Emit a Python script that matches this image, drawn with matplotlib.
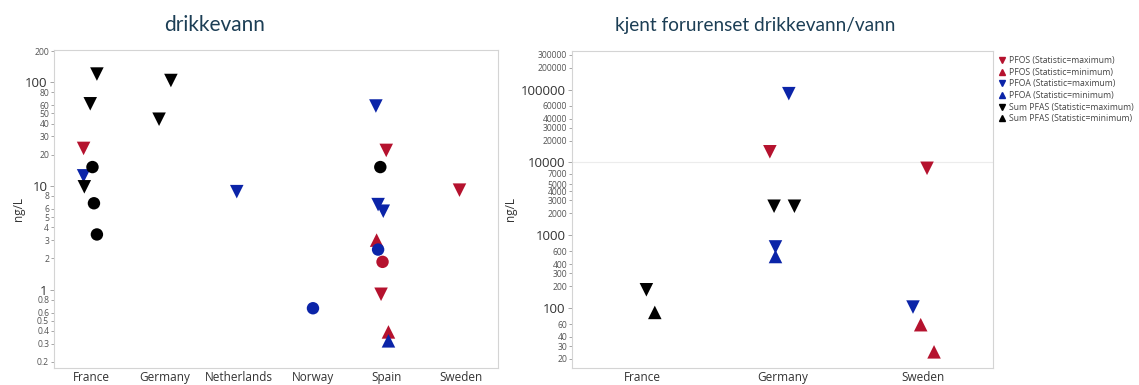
import matplotlib
matplotlib.use("Agg")
import matplotlib.pyplot as plt
from matplotlib.lines import Line2D
from matplotlib.ticker import FixedLocator

plt.rcParams["font.family"] = ["Open Sans", "DejaVu Sans"]

RED = "#b5122e"
BLUE = "#0b24a8"
BLACK = "#000000"
TITLE_COLOR = "#1c3e55"

# ---- drikkevann (drinking water) ----
left_countries = ["France", "Germany", "Netherlands", "Norway", "Spain", "Sweden"]

l_pfos_max_cat = ["France", "Spain", "Spain", "Sweden"]
l_pfos_max_val = [23, 22, 0.9, 9.1]
l_pfos_max_off = [-0.10, -0.01, -0.08, -0.02]

l_pfos_min_cat = ["Spain", "Spain"]
l_pfos_min_val = [3.0, 0.39]
l_pfos_min_off = [-0.14, 0.02]

l_pfoa_max_cat = ["France", "Netherlands", "Spain", "Spain", "Spain"]
l_pfoa_max_val = [12.5, 8.8, 59, 6.6, 5.7]
l_pfoa_max_off = [-0.10, -0.03, -0.15, -0.12, -0.05]

l_pfoa_min_cat = ["Spain"]
l_pfoa_min_val = [0.32]
l_pfoa_min_off = [0.02]

l_sum_max_cat = ["France", "France", "France", "Germany", "Germany"]
l_sum_max_val = [120, 62, 9.8, 44, 104]
l_sum_max_off = [0.08, -0.01, -0.09, -0.08, 0.08]

# single measured values (circles)
l_sum_val_cat = ["France", "France", "France", "Spain"]
l_sum_val_val = [15.2, 6.8, 3.4, 15.2]
l_sum_val_off = [0.02, 0.04, 0.08, -0.09]

l_pfos_val_cat = ["Spain"]
l_pfos_val_val = [1.85]
l_pfos_val_off = [-0.06]

l_pfoa_val_cat = ["Norway", "Spain"]
l_pfoa_val_val = [0.66, 2.43]
l_pfoa_val_off = [0.0, -0.12]

# ---- kjent forurenset drikkevann/vann (known contaminated water) ----
right_countries = ["France", "Germany", "Sweden"]

r_pfos_max_cat = ["Germany", "Sweden"]
r_pfos_max_val = [14000, 8300]
r_pfos_max_off = [-0.09, 0.03]

r_pfos_min_cat = ["Sweden", "Sweden"]
r_pfos_min_val = [59, 25]
r_pfos_min_off = [-0.015, 0.08]

r_pfoa_max_cat = ["Germany", "Germany", "Sweden"]
r_pfoa_max_val = [88000, 690, 103]
r_pfoa_max_off = [0.045, -0.05, -0.07]

r_pfoa_min_cat = ["Germany"]
r_pfoa_min_val = [510]
r_pfoa_min_off = [-0.05]

r_sum_max_cat = ["France", "Germany", "Germany"]
r_sum_max_val = [178, 2500, 2500]
r_sum_max_off = [0.03, -0.06, 0.085]

r_sum_min_cat = ["France"]
r_sum_min_val = [87]
r_sum_min_off = [0.09]

left_major = [1, 10, 100]
left_minor = [0.2, 0.3, 0.4, 0.5, 0.6, 0.8, 2, 3, 4, 5, 6, 8, 20, 30, 40, 50, 60, 80, 200]
right_major = [100, 1000, 10000, 100000]
right_minor = [20, 30, 40, 60, 200, 300, 400, 600, 2000, 3000, 4000, 5000, 7000,
               20000, 30000, 40000, 60000, 200000, 300000]

legend_labels = ["PFOS (Statistic=maximum)", "PFOS (Statistic=minimum)",
                 "PFOA (Statistic=maximum)", "PFOA (Statistic=minimum)",
                 "Sum PFAS (Statistic=maximum)", "Sum PFAS (Statistic=minimum)"]

fig = plt.figure(figsize=(11.39, 3.85), dpi=100)
ax1 = fig.add_axes([0.0474, 0.0442, 0.3898, 0.826])
ax2 = fig.add_axes([0.5022, 0.0442, 0.3696, 0.8235])


def plot_series(ax, order, cat, val, off, marker, color, size):
    xs = [order.index(c) + o for c, o in zip(cat, off)]
    ax.scatter(xs, val, marker=marker, s=size, color=color, edgecolors="none",
               zorder=3)


def style_axis(ax, order, ylim, major, minor):
    ax.set_yscale("log")
    ax.set_ylim(*ylim)
    ax.set_xlim(-0.5, len(order) - 0.5)
    ax.set_xticks(range(len(order)))
    ax.set_xticklabels(order, fontsize=8.5, color="#333333")
    ax.tick_params(axis="x", length=0, pad=2)
    ax.yaxis.set_major_locator(FixedLocator(major))
    ax.yaxis.set_minor_locator(FixedLocator(minor))
    ax.set_yticklabels([f"{v:g}" for v in major])
    ax.set_yticklabels([f"{v:g}" for v in minor], minor=True)
    ax.tick_params(axis="y", which="major", labelsize=9.5, length=3,
                   width=0.6, color="#999999", labelcolor="#333333", pad=1.5)
    ax.tick_params(axis="y", which="minor", labelsize=6.2, length=2,
                   width=0.6, color="#999999", labelcolor="#555555", pad=1.5)
    for s in ax.spines.values():
        s.set_color("#d4d4d4")
        s.set_linewidth(0.8)


TRI = 95
CIR = 80

order = left_countries
plot_series(ax1, order, l_pfos_max_cat, l_pfos_max_val, l_pfos_max_off, "v", RED, TRI)
plot_series(ax1, order, l_pfos_min_cat, l_pfos_min_val, l_pfos_min_off, "^", RED, TRI)
plot_series(ax1, order, l_pfoa_max_cat, l_pfoa_max_val, l_pfoa_max_off, "v", BLUE, TRI)
plot_series(ax1, order, l_pfoa_min_cat, l_pfoa_min_val, l_pfoa_min_off, "^", BLUE, TRI)
plot_series(ax1, order, l_sum_max_cat, l_sum_max_val, l_sum_max_off, "v", BLACK, TRI)
plot_series(ax1, order, l_sum_val_cat, l_sum_val_val, l_sum_val_off, "o", BLACK, CIR)
plot_series(ax1, order, l_pfos_val_cat, l_pfos_val_val, l_pfos_val_off, "o", RED, CIR)
plot_series(ax1, order, l_pfoa_val_cat, l_pfoa_val_val, l_pfoa_val_off, "o", BLUE, CIR)
style_axis(ax1, order, (0.175, 205), left_major, left_minor)
ax1.set_ylabel("ng/L", fontsize=8.5, color="#333333", labelpad=0)

order = right_countries
plot_series(ax2, order, r_pfos_max_cat, r_pfos_max_val, r_pfos_max_off, "v", RED, TRI)
plot_series(ax2, order, r_pfos_min_cat, r_pfos_min_val, r_pfos_min_off, "^", RED, TRI)
plot_series(ax2, order, r_pfoa_max_cat, r_pfoa_max_val, r_pfoa_max_off, "v", BLUE, TRI)
plot_series(ax2, order, r_pfoa_min_cat, r_pfoa_min_val, r_pfoa_min_off, "^", BLUE, TRI)
plot_series(ax2, order, r_sum_max_cat, r_sum_max_val, r_sum_max_off, "v", BLACK, TRI)
plot_series(ax2, order, r_sum_min_cat, r_sum_min_val, r_sum_min_off, "^", BLACK, TRI)
style_axis(ax2, order, (15, 340000), right_major, right_minor)
ax2.set_ylabel("ng/L", fontsize=8.5, color="#333333", labelpad=3)
ax2.axhline(10000, color="#ececec", lw=0.8, zorder=1)

fig.text(215 / 1139, 1 - 25 / 385, "drikkevann", ha="center", va="center",
         fontsize=15, color=TITLE_COLOR, family=["Lato", "DejaVu Sans"])
fig.text(755 / 1139, 1 - 25 / 385, "kjent forurenset drikkevann/vann", ha="center",
         va="center", fontsize=13.7, color=TITLE_COLOR, family=["Lato", "DejaVu Sans"])

handles = [
    Line2D([], [], ls="none", marker="v", color=RED, markersize=4),
    Line2D([], [], ls="none", marker="^", color=RED, markersize=4),
    Line2D([], [], ls="none", marker="v", color=BLUE, markersize=4),
    Line2D([], [], ls="none", marker="^", color=BLUE, markersize=4),
    Line2D([], [], ls="none", marker="v", color=BLACK, markersize=4),
    Line2D([], [], ls="none", marker="^", color=BLACK, markersize=4),
]
fig.legend(handles, legend_labels, loc="upper left",
           bbox_to_anchor=(995 / 1139, 1 - 52 / 385), frameon=False,
           fontsize=6.2, handlelength=0.6, handletextpad=0.5, labelspacing=0.3,
           borderpad=0, labelcolor="#444444")

fig.savefig("out.png", dpi=100, facecolor="white")
